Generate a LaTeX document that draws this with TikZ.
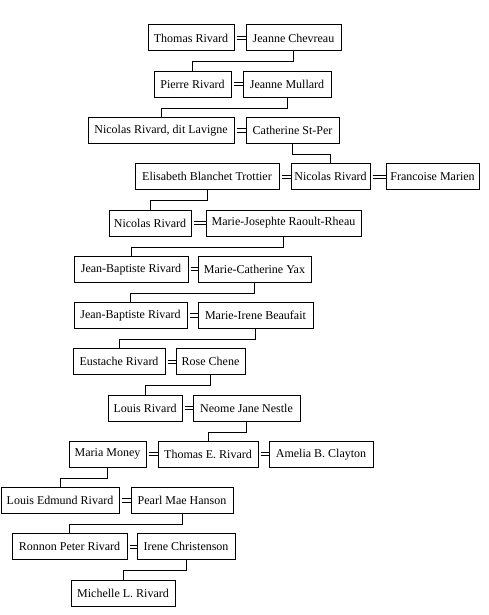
\documentclass[tikz,border=0pt]{standalone}
\usepackage{fontspec}
\setmainfont{Liberation Serif}
\tikzset{
  pb/.style={draw=black, line width=1pt, minimum height=26pt, inner sep=0pt, font=\fontsize{12pt}{14pt}\selectfont, fill=white},
  link/.style={draw=black, line width=1pt},
  wed/.style={draw=black, line width=0.9pt}
}
\newcommand{\pbox}[5]{%
  \pgfmathsetmacro{\bw}{#3-#2}%
  \pgfmathsetmacro{\bx}{(#2+#3)/2}%
  \pgfmathsetmacro{\by}{-(38+46.25*#4)}%
  \node[pb, minimum width=\bw pt] (#1) at (\bx,\by) {#5};}
\newcommand{\marr}[2]{%
  \draw[wed] ([shift={(2,1.6)}]#1.east) -- ([yshift=1.6]#2.west);
  \draw[wed] ([shift={(2,-1.6)}]#1.east) -- ([yshift=-1.6]#2.west);}
\newcommand{\kid}[2]{%
  \draw[link] (#1.south) -- ++(0,-10.5) -| (#2.north);}
\begin{document}
\begin{tikzpicture}[x=1pt,y=1pt]
\useasboundingbox[fill=white] (0,0) rectangle (488,-615);
\pbox{a1}{148}{234}{0}{Thomas Rivard}
\pbox{b1}{246}{341}{0}{Jeanne Chevreau}
\pbox{a2}{154}{231}{1}{Pierre Rivard}
\pbox{b2}{243}{331}{1}{Jeanne Mullard}
\pbox{a3}{88}{234}{2}{Nicolas Rivard, dit Lavigne}
\pbox{b3}{246}{339}{2}{Catherine St-Per}
\pbox{a4}{135}{279}{3}{Elisabeth Blanchet Trottier}
\pbox{b4}{291}{370}{3}{Nicolas Rivard}
\pbox{c4}{386}{479}{3}{Francoise Marien}
\pbox{a5}{109}{191}{4}{Nicolas Rivard}
\pbox{b5}{206}{361}{4}{Marie-Josephte Raoult-Rheau}
\pbox{a6}{74}{188}{5}{Jean-Baptiste Rivard}
\pbox{b6}{198}{311}{5}{Marie-Catherine Yax}
\pbox{a7}{74}{187}{6}{Jean-Baptiste Rivard}
\pbox{b7}{198}{313}{6}{Marie-Irene Beaufait}
\pbox{a8}{73}{165}{7}{Eustache Rivard}
\pbox{b8}{176}{245}{7}{Rose Chene}
\pbox{a9}{108}{182}{8}{Louis Rivard}
\pbox{b9}{193}{300}{8}{Neome Jane Nestle}
\pbox{a10}{69}{146}{9}{Maria Money}
\pbox{b10}{158}{258}{9}{Thomas E. Rivard}
\pbox{c10}{269}{373}{9}{Amelia B. Clayton}
\pbox{a11}{1}{119}{10}{Louis Edmund Rivard}
\pbox{b11}{131}{233}{10}{Pearl Mae Hanson}
\pbox{a12}{12}{127}{11}{Ronnon Peter Rivard}
\pbox{b12}{137}{235}{11}{Irene Christenson}
\pbox{a13}{71}{175}{12}{Michelle L. Rivard}
\marr{a1}{b1}
\marr{a2}{b2}
\marr{a3}{b3}
\marr{a4}{b4}
\marr{b4}{c4}
\marr{a5}{b5}
\marr{a6}{b6}
\marr{a7}{b7}
\marr{a8}{b8}
\marr{a9}{b9}
\marr{a10}{b10}
\marr{b10}{c10}
\marr{a11}{b11}
\marr{a12}{b12}
\kid{b1}{a2}
\kid{b2}{a3}
\kid{b3}{b4}
\kid{a4}{a5}
\kid{b5}{a6}
\kid{b6}{a7}
\kid{b7}{a8}
\kid{b8}{a9}
\kid{b9}{b10}
\kid{a10}{a11}
\kid{b11}{a12}
\kid{b12}{a13}
\end{tikzpicture}
\end{document}
